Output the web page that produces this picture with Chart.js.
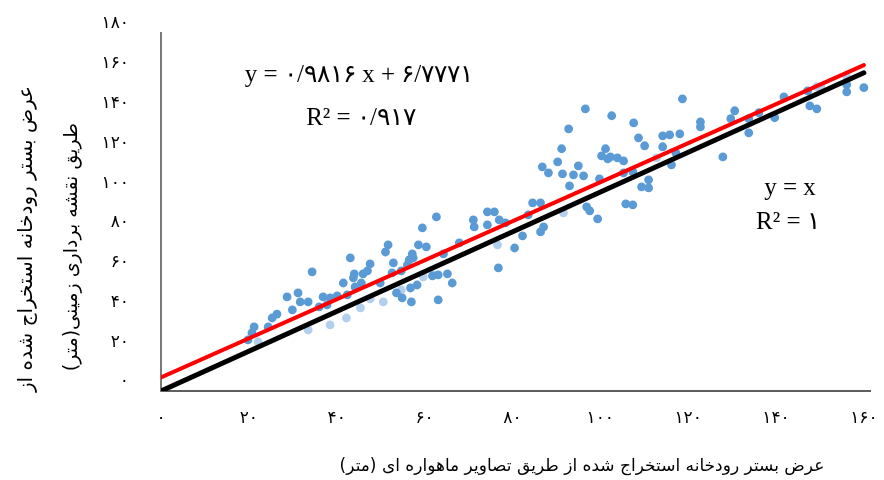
<!DOCTYPE html>
<html lang="fa">
<head>
<meta charset="utf-8">
<title>عرض بستر رودخانه</title>
<script src="https://cdn.jsdelivr.net/npm/chart.js@4"></script>
<style>
    html, body { margin: 0; padding: 0; background: #ffffff; }
</style>
</head>
<body>
<canvas id="widthChart" width="884" height="480"></canvas>
<script>

// ======================================================
// Données
// ======================================================

// width from satellite images (x) / width from ground survey (y)
const satX = [
    19.8, 20.7, 21.2, 24.4, 25.3, 26.4, 28.7, 29.9, 31.2, 31.7,
    33.5, 34.4, 36.0, 36.9, 37.8, 38.5, 40.1, 41.5, 42.4, 43.1,
    44.0, 43.8, 44.2, 45.6, 46.0, 47.0, 47.6, 49.9, 51.1, 51.7,
    52.9, 52.6, 54.7, 56.1, 56.5, 57.2, 57.4, 53.6, 54.9, 57.0,
    58.3, 56.8, 58.6, 60.4, 59.5, 62.7, 64.3, 67.9, 71.1, 71.3,
    74.3, 75.9, 74.3, 77.0, 78.4, 83.6, 84.6, 86.4, 87.1, 86.4,
    82.3, 80.5, 76.8, 65.2, 66.3, 63.1, 61.8, 63.1, 86.8, 91.4,
    93.0, 88.2, 90.3, 91.2, 92.8, 93.9, 95.0, 96.2, 96.6, 96.9,
    97.6, 99.4, 99.8, 100.3, 101.2, 101.7, 102.3, 102.6, 103.9, 105.3,
    105.3, 105.8, 107.4, 107.4, 107.6, 108.7, 109.4, 110.1, 111.0, 111.0,
    114.2, 115.8, 118.1, 114.2, 116.2, 117.2, 118.7, 122.8, 122.8, 127.9,
    129.7, 130.6, 133.8, 133.8, 136.1, 139.7, 141.8, 147.2, 147.7, 149.3,
    156.1, 156.1, 160.0
];

const groundY = [
    25.7, 29.2, 32.2, 32.2, 36.7, 38.7, 47.3, 40.8, 49.3, 44.8,
    44.8, 59.9, 42.3, 47.3, 43.3, 46.8, 47.8, 54.3, 48.3, 66.9,
    58.9, 56.9, 52.3, 54.3, 58.9, 60.4, 63.9, 54.3, 69.9, 73.5,
    64.4, 59.4, 60.4, 63.4, 65.9, 68.9, 66.9, 49.3, 46.8, 44.8,
    53.3, 51.8, 73.5, 72.5, 82.0, 87.5, 68.9, 74.5, 86.0, 82.5,
    90.1, 90.1, 83.5, 86.0, 84.5, 88.6, 94.6, 94.6, 82.5, 80.0,
    78.0, 71.9, 61.9, 58.9, 54.3, 58.4, 57.9, 45.8, 112.7, 109.2,
    103.1, 109.7, 115.2, 121.8, 131.8, 108.7, 113.2, 108.2, 141.9, 92.6,
    90.6, 86.5, 106.7, 118.2, 121.8, 116.7, 117.7, 138.4, 117.2, 115.7,
    109.7, 94.1, 110.2, 93.6, 134.8, 127.3, 102.6, 123.3, 102.1, 106.2,
    128.3, 128.8, 129.3, 122.8, 113.7, 119.7, 146.9, 135.3, 132.8, 117.7,
    136.9, 140.9, 136.9, 129.8, 139.9, 137.4, 147.9, 150.9, 143.4, 141.9,
    154.0, 150.4, 152.5
];

// points half hidden behind the lines (paler)
const satXFaint = [22.1, 33.5, 38.5, 42.2, 45.4, 47.6, 50.6, 54.7, 59.7, 62.0, 76.6, 91.6, 112.8, 149.3, 150.2, 156.1];
const groundYFaint = [24.7, 30.7, 33.2, 36.7, 41.8, 46.3, 44.8, 50.8, 57.4, 58.4, 73.5, 89.6, 117.2, 153.0, 153.0, 158.0];

// regression line y = a x + b
const fitSlope = 0.9816;
const fitIntercept = 6.7771;
const fitR2 = 0.917;
const fitX = [0, 160];
const fitY = [6.7771, 163.8331];

// 1:1 line
const identityX = [0, 160];
const identityY = [0, 160];
const identityR2 = 1;

// axes
const xTickValues = [0, 20, 40, 60, 80, 100, 120, 140, 160];
const yTickValues = [0, 20, 40, 60, 80, 100, 120, 140, 160, 180];

const xTitle = "عرض بستر رودخانه استخراج شده از طریق تصاویر ماهواره ای (متر)";
const yTitle = ["عرض بستر رودخانه استخراج شده از", "طریق نقشه برداری زمینی(متر)"];


// ======================================================
// Outils
// ======================================================

function toFa(n) {

    return String(n)
        .replace(/\d/g, d => "۰۱۲۳۴۵۶۷۸۹"[d])
        .replace(".", "/");

}

function pairs(xs, ys) {

    return xs.map((x, i) => ({ x: x, y: ys[i] }));

}


// ======================================================
// Textes (équations et titres des axes)
// ======================================================

const textPlugin = {

    id: "chartTexts",

    afterDraw(chart) {

        const ctx = chart.ctx;

        ctx.save();
        ctx.fillStyle = "#000000";
        ctx.textBaseline = "middle";
        ctx.textAlign = "center";

        // equations
        ctx.direction = "ltr";
        ctx.font = '25px "Liberation Serif", "DejaVu Serif", serif';

        ctx.fillText("y = " + toFa(fitSlope) + " x + " + toFa(fitIntercept), 359, 75);
        ctx.fillText("R² = " + toFa(fitR2), 361, 118);
        ctx.fillText("y = x", 790, 188);
        ctx.fillText("R² = " + toFa(identityR2), 788, 222);

        // axis titles
        ctx.direction = "rtl";
        ctx.font = '17px "DejaVu Sans", sans-serif';

        ctx.fillText(xTitle, 582, 467);

        ctx.font = '20px "DejaVu Sans", sans-serif';
        ctx.rotate(-Math.PI / 2);
        ctx.fillText(yTitle[0], -239, 27);
        ctx.font = '19px "DejaVu Sans", sans-serif';
        ctx.fillText(yTitle[1], -247, 72);

        ctx.restore();

    }

};


// ======================================================
// Graphique
// ======================================================

function drawChart() {

    new Chart(document.getElementById("widthChart"), {

        type: "scatter",

        data: {

            datasets: [

                {
                    type: "line",
                    label: "y = x",
                    data: pairs(identityX, identityY),
                    borderColor: "#000000",
                    borderWidth: 5,
                    borderCapStyle: "round",
                    pointRadius: 0,
                    order: 0
                },

                {
                    type: "line",
                    label: "trend",
                    data: pairs(fitX, fitY),
                    borderColor: "#ff0000",
                    borderWidth: 4,
                    borderCapStyle: "round",
                    pointRadius: 0,
                    order: 1
                },

                {
                    label: "measures",
                    data: pairs(satX, groundY),
                    backgroundColor: "#5b9bd5",
                    borderWidth: 0,
                    pointRadius: 4.4,
                    order: 2
                },

                {
                    label: "measures (faint)",
                    data: pairs(satXFaint, groundYFaint),
                    backgroundColor: "#b3cfee",
                    borderWidth: 0,
                    pointRadius: 4.4,
                    order: 3
                }

            ]

        },

        options: {

            responsive: false,
            animation: false,

            layout: {
                padding: { top: 33, right: 14, bottom: 0, left: 0 }
            },

            plugins: {
                legend: { display: false },
                tooltip: { enabled: false }
            },

            scales: {

                x: {
                    type: "linear",
                    min: 0,
                    max: 161.4,
                    border: { display: true, color: "#5e5e5e", width: 2 },
                    grid: { display: false, drawTicks: false },
                    ticks: {
                        padding: 17,
                        color: "#000000",
                        font: { family: "DejaVu Sans", size: 17 },
                        callback: v => toFa(v)
                    },
                    afterBuildTicks: s => { s.ticks = xTickValues.map(v => ({ value: v })); },
                    afterFit: s => {
                        s.height = 89;
                        s.paddingLeft = 0;
                        s.paddingRight = 0;
                    }
                },

                y: {
                    type: "linear",
                    min: 0,
                    max: 180,
                    border: { display: true, color: "#7a7a7a", width: 2 },
                    grid: { display: false, drawTicks: false },
                    ticks: {
                        padding: 32,
                        labelOffset: -9,
                        color: "#000000",
                        font: { family: "DejaVu Sans", size: 17 },
                        callback: v => toFa(v)
                    },
                    afterBuildTicks: s => { s.ticks = yTickValues.map(v => ({ value: v })); },
                    afterFit: s => {
                        s.width = 161;
                        s.paddingTop = 0;
                        s.paddingBottom = 0;
                    }
                }

            }

        },

        plugins: [textPlugin]

    });

}


// ======================================================
// Initialisation
// ======================================================

window.addEventListener("load", drawChart);

</script>
</body>
</html>
